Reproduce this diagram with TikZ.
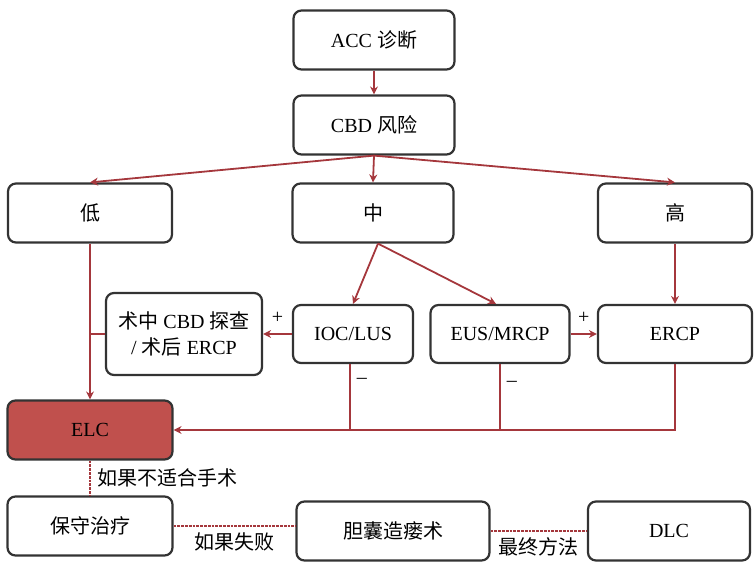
\documentclass[tikz,border=0pt]{standalone}
\usepackage{fontspec}
\usetikzlibrary{arrows.meta}
\setmainfont{Liberation Serif}
\newfontfamily\cjk{Noto Sans CJK SC}
\definecolor{lnred}{RGB}{165,55,60}
\definecolor{elcred}{RGB}{192,80,77}
\tikzset{
    box/.style={draw=black!80, line width=2.2pt, rounded corners=8pt, align=center,
        inner sep=0pt, minimum width=161pt, minimum height=59pt, font=\fontsize{20}{26}\selectfont},
    link/.style={draw=lnred, line width=1.8pt},
    dotlink/.style={draw=lnred, line width=2.8pt, densely dotted},
    lbl/.style={font=\fontsize{20}{24}\selectfont, inner sep=2pt}
}
\begin{document}
\begin{tikzpicture}[>={Stealth[length=8pt,width=8pt]}, x=1pt, y=-1pt]
\useasboundingbox (0,0) rectangle (756,565);

\node[box] (acc) at (374,40) {ACC {\cjk 诊断}};
\node[box] (cbd) at (374,125) {CBD {\cjk 风险}};
\node[box, minimum width=164pt] (low) at (90,213) {\cjk 低};
\node[box] (mid) at (373,213) {\cjk 中};
\node[box, minimum width=154pt] (high) at (675,213) {\cjk 高};

\node[box, minimum width=156pt, minimum height=82pt] (surg) at (184,334)
    {{\cjk 术中} CBD {\cjk 探查}\\/ {\cjk 术后} ERCP};
\node[box, minimum width=120pt, minimum height=58pt] (ioc) at (353,334) {IOC/LUS};
\node[box, minimum width=139pt, minimum height=58pt] (eus) at (500,334) {EUS/MRCP};
\node[box, minimum width=154pt, minimum height=58pt] (ercp) at (675,334) {ERCP};

\node[box, minimum width=165pt, fill=elcred] (elc) at (90,430) {ELC};
\node[box, minimum width=165pt] (cons) at (90,526) {\cjk 保守治疗};
\node[box, minimum width=193pt] (chol) at (393,531) {\cjk 胆囊造瘘术};
\node[box, minimum width=162pt] (dlc) at (669,531) {DLC};

\draw[link,->] (acc) -- (cbd);
\draw[link,->] (cbd.south) -- (low.north);
\draw[link,->] (cbd.south) -- (mid.north);
\draw[link,->] (cbd.south) -- (high.north);
\draw[link,->] ([xshift=5pt]mid.south) -- (ioc.north);
\draw[link,->] ([xshift=5pt]mid.south) -- ([xshift=-4pt]eus.north);
\draw[link,->] (high) -- (ercp);

\draw[link,->] (low) -- (elc);
\draw[link] (surg.west) -- (surg.west -| low.south);
\draw[link,->] (ioc.west) -- (surg.east) node[lbl, midway, above=8pt]{+};
\draw[link,->] (eus.east) -- (ercp.west) node[lbl, midway, above=8pt]{+};

\draw[link,->] (ercp.south) |- (elc.east);
\draw[link] ([xshift=-3pt]ioc.south) -- ([xshift=-3pt]ioc.south |- elc.east)
    node[lbl, pos=0.25, right=4pt]{–};
\draw[link] (eus.south) -- (eus.south |- elc.east)
    node[lbl, pos=0.3, right=4pt]{–};

\draw[dotlink] (elc) -- (cons) node[lbl, midway, right=4pt]{\cjk 如果不适合手术};
\draw[dotlink] (cons.east) -- (cons.east -| chol.west) node[lbl, midway, below=3pt]{\cjk 如果失败};
\draw[dotlink] (chol.east) -- (dlc.west) node[lbl, midway, below=3pt]{\cjk 最终方法};

\end{tikzpicture}
\end{document}
